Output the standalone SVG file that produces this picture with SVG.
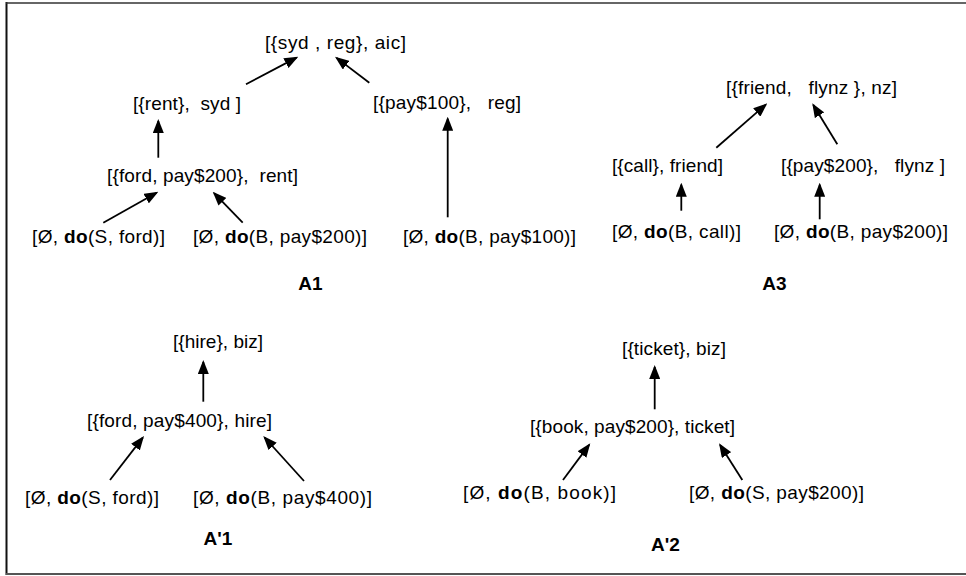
<svg xmlns="http://www.w3.org/2000/svg" width="966" height="576" viewBox="0 0 966 576" xml:space="preserve">
<style>
text{font-family:"Liberation Sans",Arial,Helvetica,sans-serif;font-size:19px;fill:#000;white-space:pre}
.b{font-weight:bold}
.lbl{font-weight:bold;text-anchor:middle}
.e{stroke:#000;stroke-width:1.8;fill:none;marker-end:url(#ah)}
</style>
<defs>
<marker id="ah" markerUnits="userSpaceOnUse" markerWidth="14" markerHeight="11" refX="12" refY="5.5" orient="auto">
<path d="M0,0 L14,5.5 L0,11 z" fill="#000"/>
</marker>
</defs>
<rect x="0" y="0" width="966" height="576" fill="#fff"/>
<g id="frame">
<line x1="6.5" y1="2" x2="6.5" y2="575" stroke="#111" stroke-width="2"/>
<line x1="6" y1="3" x2="966" y2="3" stroke="#333" stroke-width="1.5"/>
<line x1="6" y1="574" x2="966" y2="574" stroke="#555" stroke-width="2"/>
</g>
<g id="connectors">
<line class="e" x1="246" y1="84.3" x2="296.5" y2="57.6"/>
<line class="e" x1="369.3" y1="82.7" x2="336.6" y2="57.9"/>
<line class="e" x1="158.3" y1="157.7" x2="158.3" y2="121"/>
<line class="e" x1="447.7" y1="217.3" x2="447.7" y2="118.7"/>
<line class="e" x1="103.3" y1="222.7" x2="156.6" y2="192.7"/>
<line class="e" x1="242.7" y1="222.7" x2="214.1" y2="193.1"/>
<line class="e" x1="716.3" y1="147.7" x2="765.8" y2="104.6"/>
<line class="e" x1="837.3" y1="144.3" x2="813.3" y2="105"/>
<line class="e" x1="681.3" y1="210.7" x2="681.3" y2="184.7"/>
<line class="e" x1="819.7" y1="219.3" x2="819.7" y2="184.7"/>
<line class="e" x1="203.3" y1="401.7" x2="203.3" y2="362"/>
<line class="e" x1="110" y1="480" x2="142.8" y2="437.6"/>
<line class="e" x1="304" y1="481" x2="264.6" y2="437.5"/>
<line class="e" x1="654.7" y1="409.3" x2="654.7" y2="367"/>
<line class="e" x1="563" y1="480" x2="589.1" y2="444.9"/>
<line class="e" x1="742.3" y1="480" x2="720.1" y2="445"/>
</g>
<g id="A1">
<g id="a1-root"><text x="265" y="48.5" textLength="141" lengthAdjust="spacing">[{syd , reg}, aic]</text></g>
<g id="a1-rent"><text x="133" y="110" textLength="108" lengthAdjust="spacing">[{rent},  syd ]</text></g>
<g id="a1-pay100"><text x="373" y="109" textLength="148" lengthAdjust="spacing">[{pay$100},   reg]</text></g>
<g id="a1-ford"><text x="107" y="182" textLength="191" lengthAdjust="spacing">[{ford, pay$200},  rent]</text></g>
<g id="a1-do-s-ford"><text x="32" y="243" textLength="133" lengthAdjust="spacing">[Ø, <tspan class="b">do</tspan>(S, ford)]</text></g>
<g id="a1-do-b-pay200"><text x="193" y="243" textLength="174" lengthAdjust="spacing">[Ø, <tspan class="b">do</tspan>(B, pay$200)]</text></g>
<g id="a1-do-b-pay100"><text x="403" y="243" textLength="173" lengthAdjust="spacing">[Ø, <tspan class="b">do</tspan>(B, pay$100)]</text></g>
<g id="a1-label"><text class="lbl" x="310.5" y="290">A1</text></g>
</g>
<g id="A3">
<g id="a3-root"><text x="726" y="94" textLength="171" lengthAdjust="spacing">[{friend,   flynz }, nz]</text></g>
<g id="a3-call"><text x="612" y="172" textLength="111" lengthAdjust="spacing">[{call}, friend]</text></g>
<g id="a3-pay200"><text x="781" y="172" textLength="164" lengthAdjust="spacing">[{pay$200},   flynz ]</text></g>
<g id="a3-do-b-call"><text x="612" y="238" textLength="129" lengthAdjust="spacing">[Ø, <tspan class="b">do</tspan>(B, call)]</text></g>
<g id="a3-do-b-pay200"><text x="774" y="238" textLength="174" lengthAdjust="spacing">[Ø, <tspan class="b">do</tspan>(B, pay$200)]</text></g>
<g id="a3-label"><text class="lbl" x="774.5" y="290">A3</text></g>
</g>
<g id="Ap1">
<g id="ap1-root"><text x="173" y="348" textLength="90" lengthAdjust="spacing">[{hire}, biz]</text></g>
<g id="ap1-ford"><text x="87" y="427" textLength="185" lengthAdjust="spacing">[{ford, pay$400}, hire]</text></g>
<g id="ap1-do-s-ford"><text x="25" y="504" textLength="134" lengthAdjust="spacing">[Ø, <tspan class="b">do</tspan>(S, ford)]</text></g>
<g id="ap1-do-b-pay400"><text x="193" y="504" textLength="179" lengthAdjust="spacing">[Ø, <tspan class="b">do</tspan>(B, pay$400)]</text></g>
<g id="ap1-label"><text class="lbl" x="218" y="545">A'1</text></g>
</g>
<g id="Ap2">
<g id="ap2-root"><text x="622" y="355" textLength="104" lengthAdjust="spacing">[{ticket}, biz]</text></g>
<g id="ap2-book"><text x="530" y="433" textLength="205" lengthAdjust="spacing">[{book, pay$200}, ticket]</text></g>
<g id="ap2-do-b-book"><text x="463" y="499" textLength="153" lengthAdjust="spacing">[Ø, <tspan class="b">do</tspan>(B, book)]</text></g>
<g id="ap2-do-s-pay200"><text x="689" y="499" textLength="175" lengthAdjust="spacing">[Ø, <tspan class="b">do</tspan>(S, pay$200)]</text></g>
<g id="ap2-label"><text class="lbl" x="665.5" y="551">A'2</text></g>
</g>
</svg>
